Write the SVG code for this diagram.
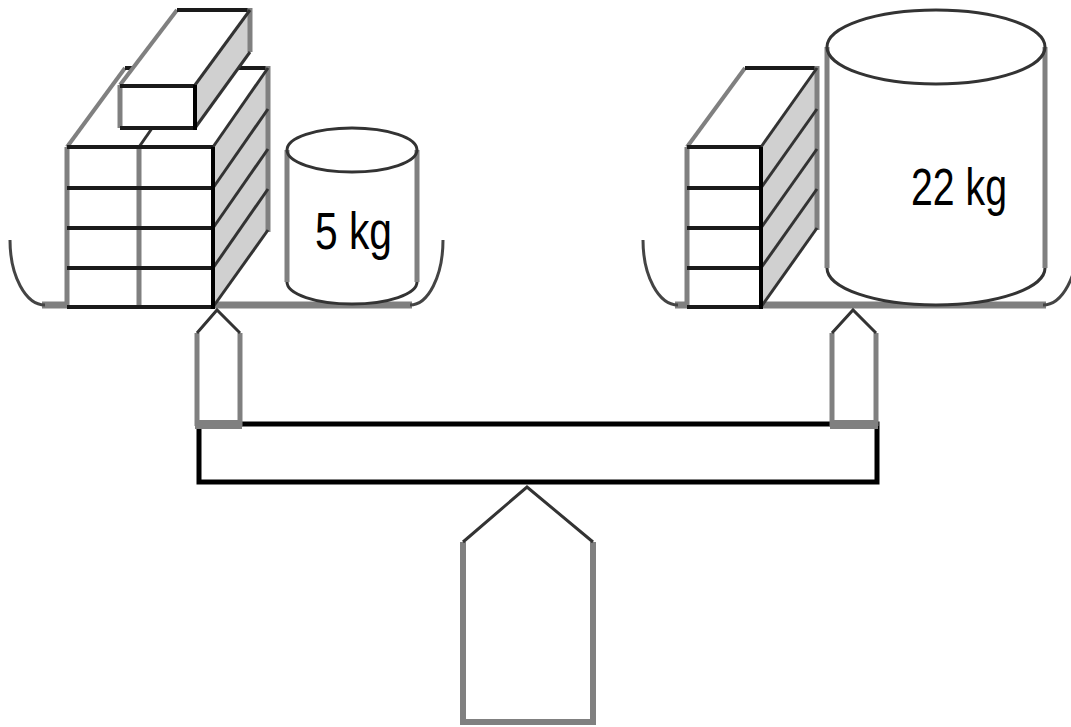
<svg xmlns="http://www.w3.org/2000/svg" width="1071" height="727" viewBox="0 0 1071 727">
<style>
.g{stroke:#808080;stroke-width:5;fill:none}
.d{stroke:#333;stroke-width:3;fill:none}
.k{stroke:#1a1a1a;stroke-width:4;fill:none}
.pan{stroke:#808080;stroke-width:7;fill:none}
.arc{stroke:#444;stroke-width:3;fill:none}
.side{fill:#d0d0d0}
.w{fill:#fff}
.lbl{font-family:"Liberation Sans",Arial,sans-serif;font-size:51px;fill:#000}
</style>
<rect width="1071" height="727" fill="#fff"/>

<g id="pan-left">
<line class="pan" x1="42" y1="305" x2="412" y2="305"/>
<path class="arc" d="M10,240 A35,65 0 0 0 45,305"/>
<path class="arc" d="M410,305 A33,65 0 0 0 443,240"/>
</g>
<g id="pan-right">
<line class="pan" x1="675" y1="305" x2="1046" y2="305"/>
<path class="arc" d="M643,240 A35,65 0 0 0 678,305"/>
<path class="arc" d="M1043,305 A35,65 0 0 0 1078,240"/>
</g>

<g id="stack-left">
<polygon class="w" points="67,147 125,68 268,68 213,147"/>
<line class="g" x1="67" y1="147" x2="125" y2="68" style="stroke-width:4"/>
<line class="k" x1="125" y1="68" x2="268" y2="68"/>
<line class="d" x1="139" y1="147" x2="194" y2="68"/>
<polygon class="side" points="213,147 268,68 268,232 213,307"/>
<line class="g" x1="268" y1="66" x2="268" y2="232"/>
<line class="d" x1="213" y1="147" x2="268" y2="68"/>
<line class="d" x1="213" y1="188" x2="268" y2="109"/>
<line class="d" x1="213" y1="228" x2="268" y2="149"/>
<line class="d" x1="213" y1="268" x2="268" y2="189"/>
<line class="d" x1="213" y1="307" x2="268" y2="230"/>
<rect class="w" x="67" y="147" width="146" height="160"/>
<line class="g" x1="67" y1="147" x2="67" y2="307"/>
<line class="g" x1="139" y1="147" x2="139" y2="307"/>
<line class="k" x1="67" y1="147" x2="213" y2="147"/>
<line class="k" x1="67" y1="188" x2="213" y2="188"/>
<line class="k" x1="67" y1="228" x2="213" y2="228"/>
<line class="k" x1="67" y1="268" x2="213" y2="268"/>
<line class="k" x1="67" y1="307" x2="213" y2="307"/>
<line class="k" x1="213" y1="147" x2="213" y2="309" style="stroke:#000"/>
</g>

<g id="brick-top">
<polygon class="w" points="120,85 177,10 250,10 195,85"/>
<line class="g" x1="120" y1="85" x2="177" y2="10" style="stroke-width:4"/>
<line class="k" x1="177" y1="10" x2="250" y2="10"/>
<polygon class="side" points="195,85 250,10 250,52 195,128"/>
<line class="g" x1="250" y1="8" x2="250" y2="52"/>
<line class="d" x1="195" y1="85" x2="250" y2="10"/>
<line class="d" x1="195" y1="128" x2="250" y2="52"/>
<rect class="w" x="120" y="85" width="75" height="43"/>
<line class="g" x1="120" y1="85" x2="120" y2="128"/>
<line class="k" x1="120" y1="86" x2="195" y2="86"/>
<line class="k" x1="120" y1="128" x2="195" y2="128"/>
<line class="k" x1="195" y1="85" x2="195" y2="130" style="stroke:#000"/>
</g>

<g id="cylinder-5kg">
<path class="w" d="M287,150 L287,282 A65,22 0 0 0 417,282 L417,150 Z"/>
<path class="g" d="M287,150 L287,282"/>
<path class="g" d="M417,150 L417,282"/>
<path class="d" d="M287,282 A65,22 0 0 0 417,282"/>
<ellipse class="d" cx="352" cy="150" rx="65" ry="22"/>
<text class="lbl" x="315" y="249" textLength="77" lengthAdjust="spacingAndGlyphs">5 kg</text>
</g>

<g id="stack-right">
<polygon class="w" points="687,147 745,68 817,68 761,147"/>
<line class="g" x1="687" y1="147" x2="745" y2="68" style="stroke-width:4"/>
<line class="k" x1="745" y1="68" x2="817" y2="68"/>
<polygon class="side" points="761,147 817,68 817,230 761,307"/>
<line class="g" x1="817" y1="66" x2="817" y2="230"/>
<line class="d" x1="761" y1="147" x2="817" y2="68"/>
<line class="d" x1="761" y1="188" x2="817" y2="109"/>
<line class="d" x1="761" y1="228" x2="817" y2="149"/>
<line class="d" x1="761" y1="268" x2="817" y2="189"/>
<line class="d" x1="761" y1="307" x2="817" y2="228"/>
<rect class="w" x="687" y="147" width="74" height="160"/>
<line class="g" x1="687" y1="147" x2="687" y2="307"/>
<line class="k" x1="687" y1="147" x2="761" y2="147"/>
<line class="k" x1="687" y1="188" x2="761" y2="188"/>
<line class="k" x1="687" y1="228" x2="761" y2="228"/>
<line class="k" x1="687" y1="268" x2="761" y2="268"/>
<line class="k" x1="687" y1="307" x2="761" y2="307"/>
<line class="k" x1="761" y1="147" x2="761" y2="309" style="stroke:#000"/>
</g>

<g id="cylinder-22kg">
<path class="w" d="M827,47 L827,268 A109,37 0 0 0 1045,268 L1045,47 Z"/>
<path class="g" d="M827,47 L827,268"/>
<path class="g" d="M1045,47 L1045,268"/>
<path class="d" d="M827,268 A109,37 0 0 0 1045,268"/>
<ellipse class="d" cx="936" cy="47" rx="109" ry="37"/>
<text class="lbl" x="911" y="205" textLength="96" lengthAdjust="spacingAndGlyphs">22 kg</text>
</g>

<g id="beam">
<rect x="199" y="424" width="678" height="58" fill="#fff" stroke="#000" stroke-width="5"/>
</g>

<g id="post-left">
<path class="g" d="M197,426 L197,333"/>
<path class="g" d="M240,426 L240,333"/>
<path class="d" d="M197,333 L217,310 L240,333"/>
<rect x="195" y="420" width="47" height="9" fill="#808080"/>
</g>

<g id="post-right">
<path class="g" d="M832,426 L832,333"/>
<path class="g" d="M876,426 L876,333"/>
<path class="d" d="M832,333 L853,310 L876,333"/>
<rect x="830" y="420" width="48" height="9" fill="#808080"/>
</g>

<g id="stand">
<path class="g" d="M463,542 L463,722 L593,722 L593,542" style="stroke-width:6"/>
<path class="d" d="M463,542 L527,487 L593,542"/>
</g>
</svg>
